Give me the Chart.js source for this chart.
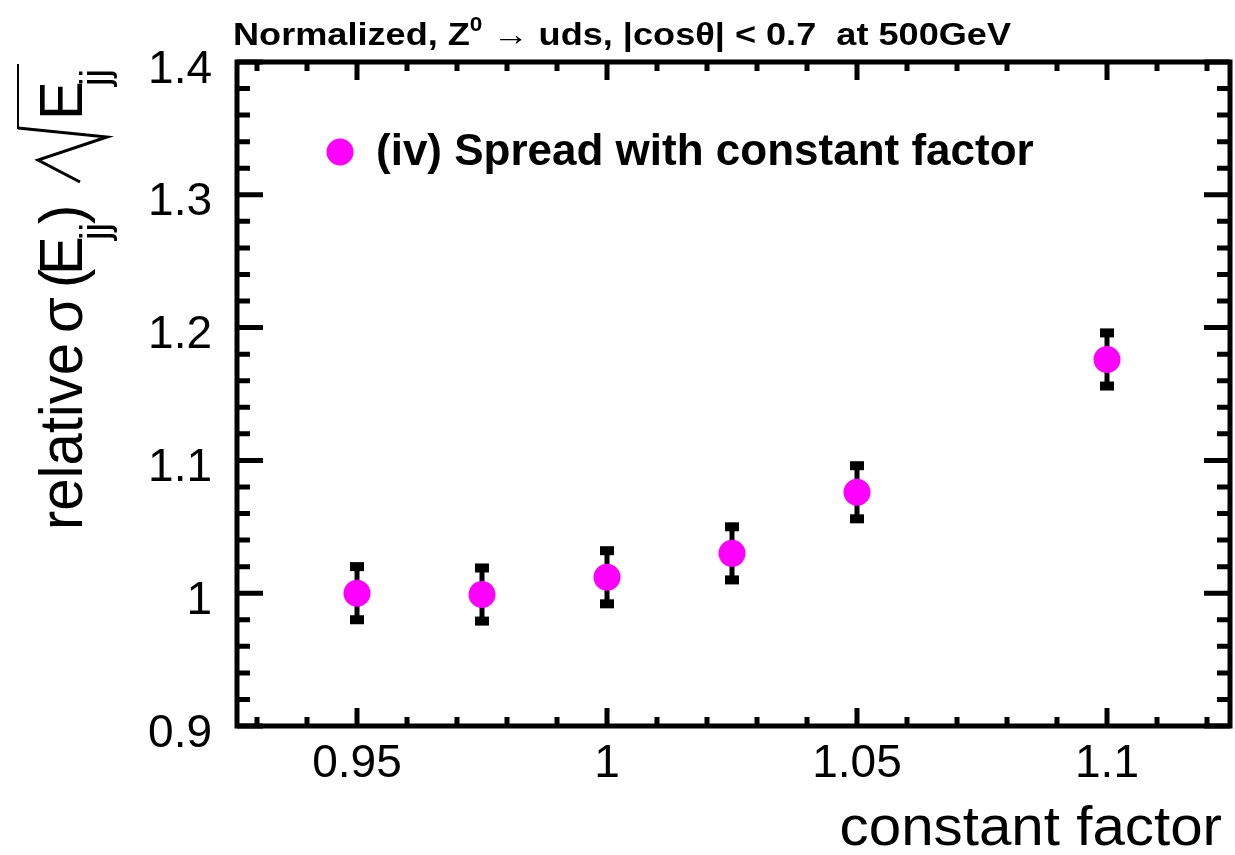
<!DOCTYPE html>
<html>
<head>
<meta charset="utf-8">
<script src="https://cdn.jsdelivr.net/npm/chart.js@4.4.1/dist/chart.umd.min.js"></script>
<style>
html,body{margin:0;padding:0;background:#fff;}
#wrap{width:1235px;height:855px;}
</style>
</head>
<body>
<div id="wrap"><canvas id="chart" width="1235" height="855"></canvas></div>
<script>
// values
const factors = [0.95, 0.975, 1.0, 1.025, 1.05, 1.1];
const sigmaRel = [1.000, 0.999, 1.012, 1.030, 1.076, 1.176];
const sigmaErr = [0.020, 0.020, 0.020, 0.020, 0.020, 0.020];

const xTicks = [0.95, 1, 1.05, 1.1];
const yTicks = [0.9, 1, 1.1, 1.2, 1.3, 1.4];

const seriesLabel = "(iv) Spread with constant factor";
const xTitle = "constant factor";

const FONT = '"Liberation Sans", Arial, Helvetica, sans-serif';

function drawYTitle(ctx){
    ctx.save();
    ctx.translate(82, 530);
    ctx.rotate(-Math.PI/2);
    ctx.fillStyle = "#000";
    ctx.strokeStyle = "#000";
    // slash + radical sign with overline
    ctx.lineWidth = 3;
    ctx.beginPath();
    ctx.moveTo(348, -2);
    ctx.lineTo(370, -44);
    ctx.lineTo(393, 25);
    ctx.lineTo(402, -64);
    ctx.stroke();
    ctx.lineWidth = 2;
    ctx.beginPath();
    ctx.moveTo(401, -64);
    ctx.lineTo(466, -64);
    ctx.stroke();

    ctx.scale(1, 1.06);
    ctx.textAlign = "left";
    ctx.textBaseline = "alphabetic";
    const main = "58px " + FONT, sub = "38px " + FONT;
    const put = (t, x, f, dy)=>{ ctx.font = f; ctx.fillText(t, x, dy); };
    put("relative", 0, main, 0);
    put("\u03C3", 197, main, 0);
    put("(", 242, main, 0);
    put("E", 255, main, 0);
    put("jj", 290, sub, 25);
    put(")", 306, main, 0);
    put("E", 410, main, 0);
    put("jj", 444, sub, 25);
    ctx.restore();
}

// frame, inward ticks, error bars, texts
const framePlugin = {
    id: "frame",
    beforeDatasetsDraw(chart){
        const ctx = chart.ctx;
        const xs = chart.scales.x, ys = chart.scales.y;
        // error bars under the markers
        ctx.save();
        ctx.strokeStyle = "#000";
        ctx.fillStyle = "#000";
        ctx.lineWidth = 5;
        factors.forEach((f,i)=>{
            const px = xs.getPixelForValue(f);
            const y1 = ys.getPixelForValue(sigmaRel[i] + sigmaErr[i]);
            const y2 = ys.getPixelForValue(sigmaRel[i] - sigmaErr[i]);
            ctx.beginPath();
            ctx.moveTo(px, y1);
            ctx.lineTo(px, y2);
            ctx.stroke();
            ctx.fillRect(px-7, y1-4.5, 14, 9);
            ctx.fillRect(px-7, y2-4.5, 14, 9);
        });
        ctx.restore();
    },
    afterDraw(chart){
        const ctx = chart.ctx;
        const a = chart.chartArea;
        const xs = chart.scales.x, ys = chart.scales.y;
        ctx.save();
        ctx.strokeStyle = "#000";
        ctx.lineWidth = 5;
        ctx.lineCap = "butt";

        // x ticks (bottom + top)
        for(let k = Math.ceil(xs.min*100); k <= Math.floor(xs.max*100); k++){
            const major = k % 5 === 0;
            const len = major ? 18 : 9;
            const px = xs.getPixelForValue(k/100);
            ctx.beginPath();
            ctx.moveTo(px, a.bottom); ctx.lineTo(px, a.bottom - len);
            ctx.moveTo(px, a.top); ctx.lineTo(px, a.top + len);
            ctx.stroke();
        }
        // y ticks (left + right)
        for(let k = Math.ceil(ys.min*50); k <= Math.floor(ys.max*50); k++){
            const major = k % 5 === 0;
            const len = major ? 26 : 13;
            const py = ys.getPixelForValue(k/50);
            ctx.beginPath();
            ctx.moveTo(a.left, py); ctx.lineTo(a.left + len, py);
            ctx.moveTo(a.right, py); ctx.lineTo(a.right - len, py);
            ctx.stroke();
        }
        ctx.strokeRect(a.left, a.top, a.right - a.left, a.bottom - a.top);

        // legend
        const ds = chart.data.datasets[0];
        ctx.fillStyle = ds.backgroundColor;
        ctx.beginPath();
        ctx.arc(340, 152, 13.5, 0, Math.PI*2);
        ctx.fill();
        ctx.fillStyle = "#000";
        ctx.font = "bold 44px " + FONT;
        ctx.textBaseline = "middle";
        ctx.textAlign = "left";
        ctx.fillText(ds.label, 376, 153);

        // top title, fitted to the reference width
        ctx.save();
        ctx.textBaseline = "alphabetic";
        const f1 = "bold 32px " + FONT, f2 = "bold 20px " + FONT;
        const p1 = "Normalized, Z", p2 = "0", p3 = " \u2192 uds, |cos\u03B8| < 0.7  at 500GeV";
        ctx.font = f1; let w = ctx.measureText(p1).width + ctx.measureText(p3).width;
        ctx.font = f2; w += ctx.measureText(p2).width;
        ctx.translate(233, 45);
        ctx.scale(778 / w, 1);
        let tx = 0;
        const put = (t, f, dy)=>{ ctx.font = f; ctx.fillText(t, tx, dy); tx += ctx.measureText(t).width; };
        put(p1, f1, 0);
        put(p2, f2, -14);
        put(p3, f1, 0);
        ctx.restore();

        // x title
        ctx.font = "55px " + FONT;
        ctx.textAlign = "right";
        ctx.textBaseline = "alphabetic";
        ctx.save();
        ctx.translate(1222, 845);
        ctx.scale(1.06, 1);
        ctx.fillText(xTitle, 0, 0);
        ctx.restore();
        ctx.restore();

        drawYTitle(ctx);
    }
};

new Chart(document.getElementById("chart"), {
    type: "scatter",
    data: {
        datasets: [{
            label: seriesLabel,
            data: factors.map((f,i)=>({x:f, y:sigmaRel[i]})),
            backgroundColor: "#ff00ff",
            borderColor: "#ff00ff",
            borderWidth: 0,
            pointRadius: 13.5,
            pointHoverRadius: 13.5
        }]
    },
    options: {
        responsive: false,
        animation: false,
        events: [],
        layout: { autoPadding: false, padding: { top: 62, right: 5, left: 0, bottom: 0 } },
        plugins: {
            legend: { display: false },
            tooltip: { enabled: false }
        },
        scales: {
            x: {
                type: "linear",
                min: 0.926,
                max: 1.1246,
                afterFit: s => { s.height = 129; s.paddingLeft = 0; s.paddingRight = 0; },
                afterBuildTicks: s => { s.ticks = xTicks.map(v => ({value: v})); },
                grid: { display: false, drawTicks: false },
                border: { display: false },
                ticks: {
                    callback: v => String(v),
                    color: "#000",
                    font: { family: FONT, size: 46 },
                    padding: 11,
                    maxRotation: 0,
                    autoSkip: false
                }
            },
            y: {
                type: "linear",
                min: 0.9,
                max: 1.4,
                afterFit: s => { s.width = 237; s.paddingTop = 0; s.paddingBottom = 0; },
                afterBuildTicks: s => { s.ticks = yTicks.map(v => ({value: v})); },
                grid: { display: false, drawTicks: false },
                border: { display: false },
                ticks: {
                    callback: v => String(v),
                    color: "#000",
                    font: { family: FONT, size: 46 },
                    padding: 25,
                    labelOffset: 8
                }
            }
        }
    },
    plugins: [framePlugin]
});
</script>
</body>
</html>
